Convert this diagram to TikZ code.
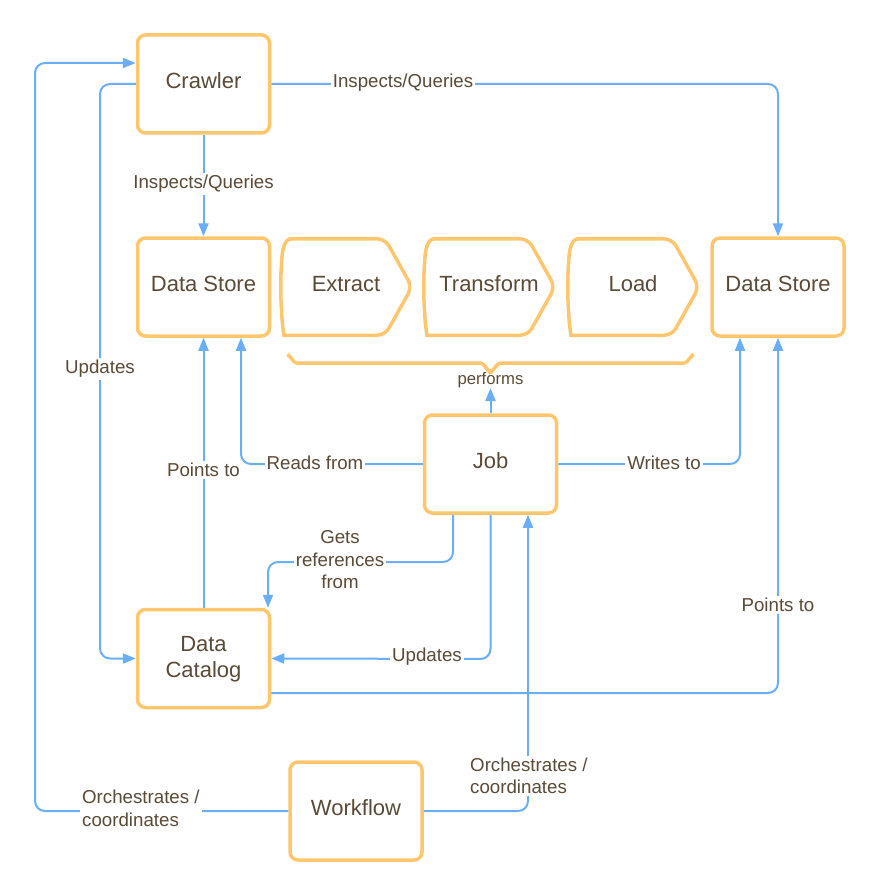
\documentclass[tikz,border=0pt]{standalone}
\usepackage{fontspec}
\setmainfont{Liberation Sans}
\usetikzlibrary{arrows.meta}
\definecolor{boxor}{HTML}{FFC66E}
\definecolor{lnblue}{HTML}{6AAEF7}
\definecolor{txt}{HTML}{5A4A36}
\begin{document}
\begin{tikzpicture}[x=1pt,y=-1pt,
  box/.style={draw=boxor, line width=3.5pt, rounded corners=8pt, minimum width=132pt, minimum height=98pt,
    text=txt, font=\fontsize{22}{26}\selectfont, align=center, inner sep=0pt, text height=16pt, text depth=7pt},
  chev/.style={draw=boxor, line width=3.5pt},
  chevtxt/.style={text=txt, font=\fontsize{22}{27}\selectfont, inner sep=0pt, text height=16pt, text depth=7pt},
  conn/.style={draw=lnblue, line width=2pt, rounded corners=10pt},
  arr/.style={conn, -{Triangle[length=13pt,width=10pt]}},
  lbl/.style={fill=white, text=txt, font=\fontsize{18.7}{22.5}\selectfont, inner sep=2pt, align=center},
]
\useasboundingbox (0,0) rectangle (880,896);

% boxes
\node[box] (crawler) at (203.5,84) {Crawler};
\node[box] (dsl) at (203.5,287) {Data Store};
\node[box] (dsr) at (778,287) {Data Store};
\node[box] (job) at (490.5,464) {Job};
\node[box, text height=45pt] (cat) at (203.5,658.5) {Data\\Catalog};
\node[box] (wf) at (356,811) {Workflow};

% chevrons
\foreach \x/\nm/\t in {280/ext/Extract,423/trf/Transform,567/lod/Load}{
  \draw[chev] ({\x+40},238.75) [rounded corners=8pt] -- ({\x+105},238.75) -- ({\x+132},287) -- ({\x+105},335.25) -- ({\x+12},335.25) [sharp corners]
     .. controls ({\x+4},335.25) and ({\x+2},324) .. ({\x+1.5},310) .. controls ({\x+0.5},297) and ({\x+0.5},277) .. ({\x+1.5},264)
     .. controls ({\x+2},250) and ({\x+4},238.75) .. ({\x+12},238.75) -- cycle;
  \node[chevtxt] (\nm) at ({\x+66},287) {\t};
}

% brace
\draw[boxor, line width=3.5pt, line cap=round] (288,356) to[out=90,in=180] (297,363) -- (480,363)
   to[out=0,in=-90] (490.5,371) to[out=-90,in=180] (501,363) -- (684,363) to[out=0,in=90] (693,356);

% connectors
\coordinate (perfend) at (490.5,388);
\draw[arr] (job.north) -- (perfend);
\node[text=txt, font=\fontsize{16.7}{20}\selectfont, inner sep=0pt] (perf) at (490.5,380) {performs};

\draw[arr] (crawler.east) -- (778,84) -- (dsr.north);
\draw[arr] (crawler.south) -- (dsl.north);
\draw[arr] (crawler.west) -- (100,84) -- (100,658.5) -- (cat.west);
\draw[arr] (wf.west) -- (35,811) -- (35,63) -- (crawler.west |- 0,63);
\draw[arr] (wf.east) -- (528,811) -- (job.south -| 528,0);
\draw[arr] (job.west) -- (241,464) -- (dsl.south -| 241,0);
\draw[arr] (job.east) -- (740,464) -- (dsr.south -| 740,0);
\draw[arr] (cat.north) -- (dsl.south);
\draw[arr] (cat.east |- 0,693) -- (778,693) -- (dsr.south);
\draw[arr] (job.south -| 453,0) -- (453,562) -- (268,562) -- (cat.north -| 268,0);
\draw[arr] (job.south) -- (490.5,659) -- (cat.east);

% labels
\node[lbl] (l1) at (403,83) {Inspects/Queries};
\node[lbl] (l2) at (203.5,184) {Inspects/Queries};
\node[lbl] (l3) at (100,369) {Updates};
\node[lbl, align=left, anchor=west] (l4) at (80,808.5) {Orchestrates /\\coordinates};
\node[lbl, align=left, anchor=west] (l5) at (468,776) {Orchestrates /\\coordinates};
\node[lbl] (l6) at (315,463) {Reads from};
\node[lbl] (l7) at (664,463) {Writes to};
\node[lbl] (l8) at (203.5,470) {Points to};
\node[lbl] (l9) at (778,605) {Points to};
\node[lbl] (l10) at (340,560) {Gets\\references\\from};
\node[lbl] (l11) at (427,657) {Updates};
\end{tikzpicture}
\end{document}
